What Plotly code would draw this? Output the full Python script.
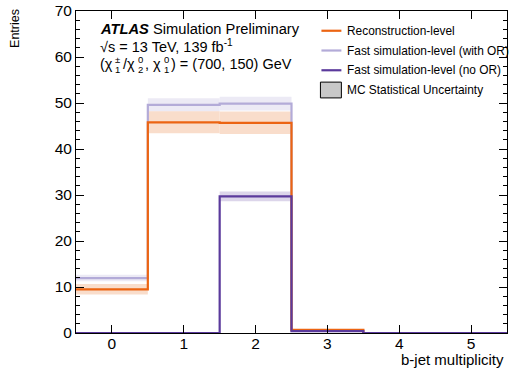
import plotly.graph_objects as go

# ---- data ----
bins = [0, 1, 2, 3, 4, 5]
reco = [9.5, 45.8, 45.7, 0.7, 0.0, 0.0]
reco_err = [1.15, 2.4, 2.45, 0.15, 0.0, 0.0]
fast_or = [11.95, 49.6, 49.85, 0.5, 0.0, 0.0]
fast_or_err = [0.7, 1.45, 1.5, 0.1, 0.0, 0.0]
fast_noor = [0.0, 0.0, 29.7, 0.4, 0.0, 0.0]
fast_noor_err = [0.0, 0.0, 1.05, 0.1, 0.0, 0.0]

series_names = ["Reconstruction-level", "Fast simulation-level (with OR)",
                "Fast simulation-level (no OR)"]

FONT = "Liberation Sans, Arial, sans-serif"
c_reco, c_reco_band = "#ec6412", "#f9ddcb"
c_or, c_or_band = "#b3abd8", "#eceaf5"
c_noor, c_noor_band = "#5b3a9c", "#dcd5ea"

fig = go.Figure()

def band(vals, errs, color):
    base = [v - e for v, e in zip(vals, errs)]
    h = [2 * e for e in errs]
    fig.add_trace(go.Bar(x=bins, y=h, base=base, width=1.0, marker_color=color,
                         marker_line_width=0, showlegend=False, hoverinfo="skip"))

def step(vals, color, w):
    edges = [b - 0.5 for b in bins] + [bins[-1] + 0.5]
    ys = list(vals) + [vals[-1]]
    fig.add_trace(go.Scatter(x=edges, y=ys, mode="lines", line_shape="hv",
                             line=dict(color=color, width=w), showlegend=False,
                             hoverinfo="skip"))

band(fast_or, fast_or_err, c_or_band)
band(reco, reco_err, c_reco_band)
band(fast_noor, fast_noor_err, c_noor_band)
step(fast_or, c_or, 2.2)
step(reco, c_reco, 2.2)
step(fast_noor, c_noor, 2.2)

fig.update_layout(
    width=510, height=372, margin=dict(l=76, r=2, t=7, b=39),
    plot_bgcolor="white", paper_bgcolor="white", barmode="overlay",
    font=dict(family=FONT, color="black", size=15), showlegend=False,
)
fig.update_xaxes(range=[-0.5, 5.5], tickmode="linear", tick0=0, dtick=1,
                 ticks="inside", ticklen=8, tickcolor="black", tickwidth=1.2,
                 showline=True, linecolor="black", linewidth=1, mirror="allticks",
                 showgrid=False, zeroline=False, tickfont=dict(size=15.5),
                 ticklabeloverflow="allow", ticklabelstandoff=-4, layer="above traces")
fig.update_yaxes(range=[0, 70], tickmode="linear", tick0=0, dtick=10,
                 ticks="inside", ticklen=8, tickcolor="black", tickwidth=1.2,
                 showline=True, linecolor="black", linewidth=1, mirror="allticks",
                 showgrid=False, zeroline=False, tickfont=dict(size=15.5),
                 ticklabeloverflow="allow", layer="above traces",
                 minor=dict(ticks="inside", ticklen=4, dtick=2, tickcolor="black",
                            tickwidth=1, showgrid=False))

def px(xp):
    return (xp - 76) / 432

def py(yp):
    return (333 - yp) / 326

ann = []

def txt(x, y, s, size, anchor="left", angle=0):
    ann.append(dict(x=px(x), y=py(y), xref="paper", yref="paper", xanchor=anchor,
                    yanchor="middle", showarrow=False, text=s, textangle=angle,
                    font=dict(size=size)))

txt(507, 360, "b-jet multiplicity", 15, "right")
txt(15, 25, "Entries", 12.5, "center", -90)
txt(98, 25, "<b><i>ATLAS</i></b> Simulation Preliminary", 14.7)
txt(98, 42, "√s = 13 TeV, 139 fb<sup>-1</sup>", 14.5)

# third header line with stacked sub/superscripts
y3 = 61
txt(98, y3, "(χ", 14.5)
txt(113, y3 - 5, "±", 9.5)
txt(113, y3 + 5, "1", 9.5)
txt(121, y3, "/χ", 14.5)
txt(136, y3 - 5, "0", 9.5)
txt(136, y3 + 5, "2", 9.5)
txt(143, y3, ", χ", 14.5)
txt(162, y3 - 5, "0", 9.5)
txt(162, y3 + 5, "1", 9.5)
txt(169, y3, ") = (700, 150) GeV", 14.5)

shapes = []
leg_y = [27, 47, 67]
for name, col, yy in zip(series_names, [c_reco, c_or, c_noor], leg_y):
    shapes.append(dict(type="line", xref="paper", yref="paper", x0=px(322), x1=px(342),
                       y0=py(yy), y1=py(yy), line=dict(color=col, width=2.2)))
    txt(346, yy, name, 11.9)
shapes.append(dict(type="rect", xref="paper", yref="paper", x0=px(321), x1=px(342),
                   y0=py(95), y1=py(79), fillcolor="#c8c8c8",
                   line=dict(color="black", width=1)))
txt(346, 87, "MC Statistical Uncertainty", 11.9)

fig.update_layout(annotations=ann, shapes=shapes)
fig.write_html("out.html")
